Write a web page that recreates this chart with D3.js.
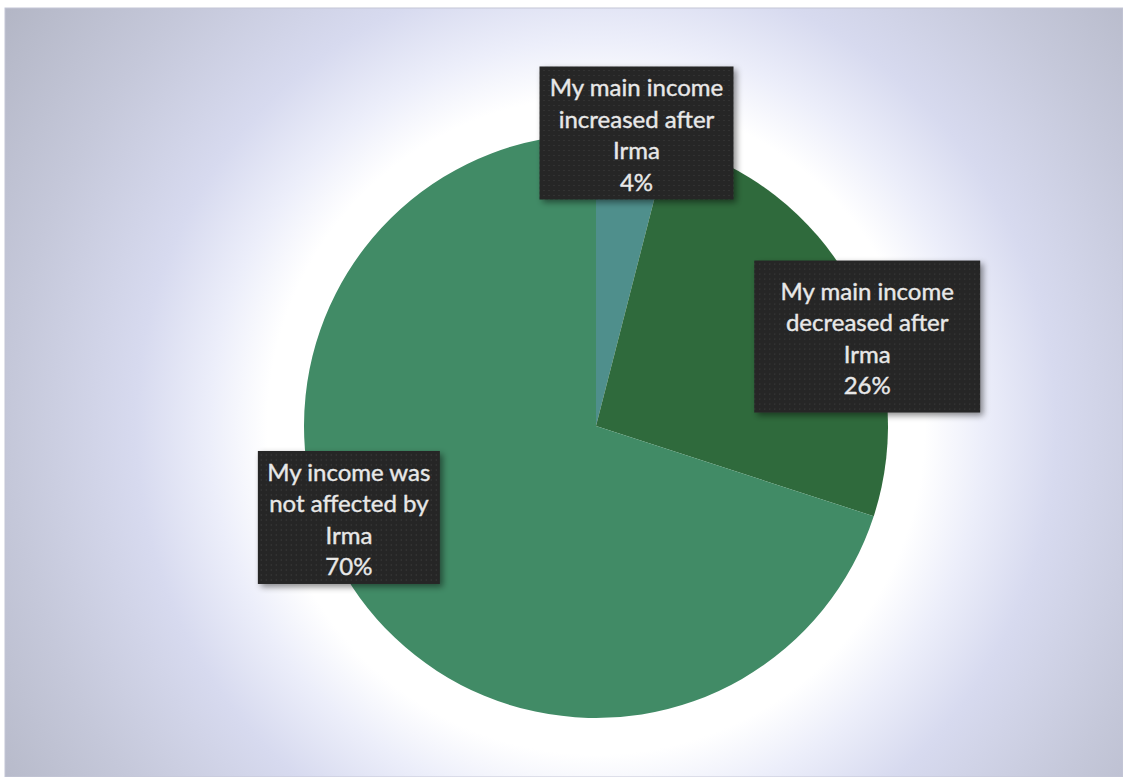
<!DOCTYPE html>
<html>
<head>
<meta charset="utf-8">
<script src="https://cdn.jsdelivr.net/npm/d3@7/dist/d3.min.js"></script>
<style>
  html, body { margin: 0; padding: 0; background: #ffffff; }
  svg { display: block; }
</style>
</head>
<body>
<svg id="chart" width="1123" height="777"></svg>
<script>
// Survey answers: how main income changed after Hurricane Irma
const categories = [
  "My main income increased after Irma",
  "My main income decreased after Irma",
  "My income was not affected by Irma"
];
const values = [4, 26, 70];
const labelLines = [
  ["My main income", "increased after", "Irma"],
  ["My main income", "decreased after", "Irma"],
  ["My income was", "not affected by", "Irma"]
];
const sliceColors = ["#4f8f8c", "#2f6a3c", "#418b66"];

// Layout
const W = 1123, H = 777;
const cx = 596, cy = 426, R = 292;
const labelBox = [[194, 133], [226, 152], [182, 133]];
const labelNudge = [[5, -12], [23, 47], [-18, -75]];
const lineStep = 31.5;

const svg = d3.select("#chart");
const defs = svg.append("defs");

// Plot-area background: white glow around the pie fading to lavender grey
const bg = defs.append("radialGradient")
  .attr("id", "bgGlow")
  .attr("gradientUnits", "userSpaceOnUse")
  .attr("cx", cx).attr("cy", cy).attr("r", 730);
[[0, "#ffffff"], [0.45, "#ffffff"], [0.53, "#eceefa"], [0.63, "#d7daef"],
 [0.8, "#c5c8da"], [1, "#b2b5c4"]].forEach(([o, c]) =>
  bg.append("stop").attr("offset", o).attr("stop-color", c));

const shadow = defs.append("filter").attr("id", "boxShadow")
  .attr("x", "-20%").attr("y", "-20%").attr("width", "140%").attr("height", "140%");
shadow.append("feDropShadow")
  .attr("dx", 3).attr("dy", 3).attr("stdDeviation", 3)
  .attr("flood-color", "#000").attr("flood-opacity", 0.45);

// Fine dotted texture on the label boxes
const dots = defs.append("pattern").attr("id", "dots")
  .attr("patternUnits", "userSpaceOnUse").attr("width", 5).attr("height", 5);
dots.append("rect").attr("width", 5).attr("height", 5).attr("fill", "#262626");
dots.append("circle").attr("cx", 2.5).attr("cy", 2.5).attr("r", 0.8).attr("fill", "#3a3a3a");

svg.append("rect")
  .attr("x", 5).attr("y", 8).attr("width", W - 5).attr("height", H - 8)
  .attr("fill", "url(#bgGlow)")
  .attr("stroke", "#c4c6d6").attr("stroke-width", 1);

const pie = d3.pie().sort(null).value(d => d)(values);
const arc = d3.arc().innerRadius(0).outerRadius(R);
const labelArc = d3.arc().innerRadius(R * 0.97).outerRadius(R * 0.97);

const g = svg.append("g").attr("transform", `translate(${cx},${cy})`);

g.selectAll("path.slice")
  .data(pie)
  .join("path")
  .attr("class", "slice")
  .attr("d", arc)
  .attr("fill", (d, i) => sliceColors[i]);

// Data labels: dark boxes with category name and share
const labels = g.selectAll("g.label")
  .data(pie)
  .join("g")
  .attr("class", "label")
  .attr("transform", (d, i) => {
    const [x, y] = labelArc.centroid(d);
    return `translate(${x + labelNudge[i][0]},${y + labelNudge[i][1]})`;
  });

labels.append("rect")
  .attr("x", (d, i) => -labelBox[i][0] / 2)
  .attr("y", (d, i) => -labelBox[i][1] / 2)
  .attr("width", (d, i) => labelBox[i][0])
  .attr("height", (d, i) => labelBox[i][1])
  .attr("fill", "url(#dots)")
  .attr("filter", "url(#boxShadow)");

labels.each(function (d, i) {
  const lines = labelLines[i].concat([d3.format(".0%")(d.data / 100)]);
  const n = lines.length;
  d3.select(this).selectAll("text")
    .data(lines)
    .join("text")
    .attr("x", 0)
    .attr("y", (t, k) => (k - (n - 1) / 2) * lineStep + 2)
    .attr("dy", "0.36em")
    .attr("text-anchor", "middle")
    .attr("font-family", "Lato, 'Open Sans', sans-serif")
    .attr("font-size", 24)
    .attr("font-weight", 400)
    .attr("fill", "#e8e8e8")
    .attr("stroke", "#e8e8e8")
    .attr("stroke-width", 0.4)
    .text(t => t);
});
</script>
</body>
</html>
